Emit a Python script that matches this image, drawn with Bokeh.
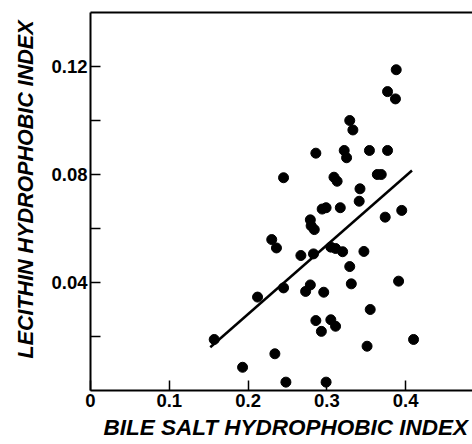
from bokeh.plotting import figure
from bokeh.models import ColumnDataSource, FixedTicker, LinearAxis, Title, Range1d
from bokeh.embed import file_html
from bokeh.resources import INLINE

# --- data ---
bile_salt_hi = [0.388, 0.377, 0.387, 0.329, 0.333, 0.286, 0.322, 0.325, 0.354, 0.377,
                0.245, 0.309, 0.313, 0.364, 0.369, 0.342, 0.341, 0.294, 0.299, 0.317,
                0.395, 0.374, 0.279, 0.280, 0.284, 0.230, 0.236, 0.305, 0.311, 0.320,
                0.267, 0.283, 0.347, 0.329, 0.391, 0.331, 0.245, 0.279, 0.273, 0.296,
                0.212, 0.355, 0.286, 0.305, 0.311, 0.293, 0.157, 0.410, 0.351, 0.234,
                0.193, 0.248, 0.299]
lecithin_hi = [0.1188, 0.1107, 0.1080, 0.1000, 0.0965, 0.0879, 0.0889, 0.0862, 0.0889, 0.0889,
               0.0788, 0.0790, 0.0775, 0.0800, 0.0800, 0.0747, 0.0701, 0.0672, 0.0677, 0.0677,
               0.0667, 0.0642, 0.0632, 0.0610, 0.0596, 0.0559, 0.0528, 0.0531, 0.0526, 0.0514,
               0.0500, 0.0506, 0.0515, 0.0459, 0.0405, 0.0395, 0.0380, 0.0391, 0.0367, 0.0364,
               0.0346, 0.0300, 0.0259, 0.0262, 0.0238, 0.0219, 0.0189, 0.0189, 0.0164, 0.0136,
               0.0086, 0.0031, 0.0031]
fit_x = [0.152, 0.408]
fit_y = [0.0160, 0.0815]

x_ticks = [0, 0.1, 0.2, 0.3, 0.4]
y_ticks = [0.04, 0.08, 0.12]
y_minor_ticks = [0.02, 0.06, 0.10]

x_title = "BILE SALT HYDROPHOBIC INDEX"
y_title = "LECITHIN HYDROPHOBIC INDEX"

FONT = "Liberation Sans"

p = figure(width=472, height=444, output_backend="svg", toolbar_location=None,
           x_range=Range1d(0, 0.4848), y_range=Range1d(0, 0.14),
           min_border_left=90, min_border_right=0, min_border_top=12, min_border_bottom=54)
p.outline_line_color = None
p.xgrid.visible = False
p.ygrid.visible = False
p.background_fill_color = "white"
p.border_fill_color = "white"

src = ColumnDataSource(dict(x=bile_salt_hi, y=lecithin_hi))
p.scatter("x", "y", source=src, size=10, color="black")
p.line(fit_x, fit_y, line_color="black", line_width=2.5)

for ax in (p.xaxis[0], p.yaxis[0]):
    ax.axis_line_width = 2
    ax.axis_line_color = "black"
    ax.major_tick_in = 10
    ax.major_tick_out = 0
    ax.minor_tick_in = 10
    ax.minor_tick_out = 0
    ax.major_tick_line_width = 1.5
    ax.minor_tick_line_width = 1.5
    ax.major_label_text_font = FONT
    ax.major_label_text_font_style = "bold"
    ax.major_label_text_font_size = "18.5px"
    ax.major_label_text_color = "black"
    ax.major_label_standoff = 3

p.xaxis[0].ticker = FixedTicker(ticks=x_ticks)
p.yaxis[0].ticker = FixedTicker(ticks=y_ticks, minor_ticks=y_minor_ticks)

top = LinearAxis(ticker=FixedTicker(ticks=[]), axis_line_width=2, axis_line_color="black",
                 major_label_text_font_size="0px", major_tick_line_color=None,
                 minor_tick_line_color=None)
p.add_layout(top, "above")

p.add_layout(Title(text=x_title, align="left", offset=13, standoff=7,
                   text_font=FONT, text_font_style="bold italic", text_font_size="22.5px",
                   text_color="black"), "below")
p.add_layout(Title(text=y_title, align="left", offset=32, standoff=22,
                   text_font=FONT, text_font_style="bold italic", text_font_size="21.5px",
                   text_color="black"), "left")

open("out.html", "w").write(file_html(p, INLINE))
